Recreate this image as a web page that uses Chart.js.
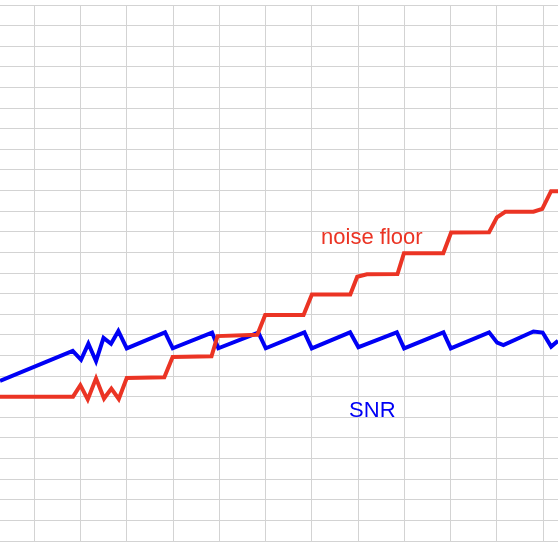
<!DOCTYPE html>
<html>
<head>
<meta charset="utf-8">
<script src="https://cdn.jsdelivr.net/npm/chart.js@4.4.1/dist/chart.umd.min.js"></script>
<style>
  html, body { margin: 0; padding: 0; background: #fff; }
  #chart { display: block; }
</style>
</head>
<body>
<canvas id="chart" width="558" height="558"></canvas>
<script>
// x in grid units (one vertical grid line per unit), y in grid units (one horizontal line per unit)
const noiseX = [-0.742, 0.837, 0.995, 1.155, 1.334, 1.507, 1.665, 1.825, 1.998, 2.81, 2.99, 3.83, 3.96, 4.82, 4.99,
    5.82, 6.0, 6.83, 6.98, 7.19, 7.85, 7.99, 8.84, 9.01, 9.83, 10.0, 10.18, 10.79, 10.98, 11.17, 11.32];
const noiseY = [7.0, 7.0, 7.56, 6.87, 7.89, 6.91, 7.39, 6.89, 7.91, 7.94, 8.93, 8.96, 9.94, 10.0, 10.96,
    10.96, 11.96, 11.96, 12.82, 12.94, 12.95, 13.96, 13.96, 14.96, 14.98, 15.7, 15.97, 15.97, 16.11, 16.97, 16.97];

const snrX = [-0.742, 0.83, 1.01, 1.168, 1.334, 1.496, 1.658, 1.816, 1.998, 2.826, 2.992, 3.842, 3.978, 4.843, 5.003,
    5.838, 5.998, 6.826, 7.005, 7.15, 7.836, 7.994, 8.843, 9.003, 9.831, 10.005, 10.14, 10.789, 10.988, 11.172, 11.32];
const snrY = [7.77, 9.22, 8.79, 9.57, 8.72, 9.85, 9.57, 10.19, 9.34, 10.12, 9.35, 10.11, 9.35, 10.11, 9.35,
    10.12, 9.34, 10.12, 9.4, 9.52, 10.12, 9.34, 10.12, 9.34, 10.12, 9.62, 9.5, 10.16, 10.11, 9.43, 9.71];

const xGridTicks = [0, 1, 2, 3, 4, 5, 6, 7, 8, 9, 10, 11];
const yGridTicks = Array.from({ length: 27 }, (_, i) => i);

const labels = [
    { text: 'noise floor', x: 6.199, y: 14.41, color: 'rgb(235, 52, 36)' },
    { text: 'SNR', x: 6.804, y: 6.03, color: 'rgb(0, 0, 245)' }
];

const toPoints = (xs, ys) => xs.map((x, i) => ({ x: x, y: ys[i] }));

const lineLabels = {
    id: 'lineLabels',
    afterDatasetsDraw(chart) {
        const ctx = chart.ctx;
        const xs = chart.scales.x, ys = chart.scales.y;
        ctx.save();
        ctx.font = '22px "Liberation Sans", Arial, sans-serif';
        ctx.textAlign = 'left';
        ctx.textBaseline = 'alphabetic';
        labels.forEach(l => {
            ctx.fillStyle = l.color;
            ctx.fillText(l.text, xs.getPixelForValue(l.x), ys.getPixelForValue(l.y));
        });
        ctx.restore();
    }
};

const gridOpts = { color: '#d3d3d3', lineWidth: 1, drawTicks: false };

new Chart(document.getElementById('chart'), {
    type: 'line',
    data: {
        datasets: [
            {
                label: 'noise floor',
                data: toPoints(noiseX, noiseY),
                borderColor: 'rgb(235, 52, 36)',
                borderWidth: 4,
                pointRadius: 0,
                tension: 0,
                fill: false
            },
            {
                label: 'SNR',
                data: toPoints(snrX, snrY),
                borderColor: 'rgb(0, 0, 245)',
                borderWidth: 4,
                pointRadius: 0,
                tension: 0,
                fill: false
            }
        ]
    },
    options: {
        responsive: false,
        animation: false,
        devicePixelRatio: 1,
        layout: { padding: { top: 5, bottom: 17, left: 0, right: 0 } },
        plugins: { legend: { display: false }, tooltip: { enabled: false } },
        scales: {
            x: {
                type: 'linear',
                min: -0.742,
                max: 11.32,
                afterBuildTicks: s => { s.ticks = xGridTicks.map(v => ({ value: v })); },
                ticks: { display: false },
                grid: gridOpts,
                border: { display: false }
            },
            y: {
                type: 'linear',
                min: 0,
                max: 26,
                afterBuildTicks: s => { s.ticks = yGridTicks.map(v => ({ value: v })); },
                ticks: { display: false },
                grid: gridOpts,
                border: { display: false }
            }
        }
    },
    plugins: [lineLabels]
});
</script>
</body>
</html>
